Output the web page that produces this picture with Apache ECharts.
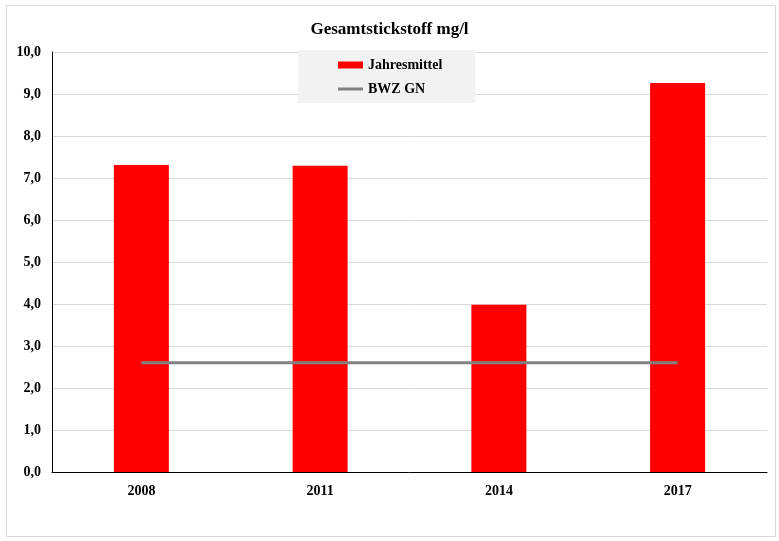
<!DOCTYPE html>
<html>
<head>
<meta charset="utf-8">
<script src="https://cdn.jsdelivr.net/npm/echarts@6/dist/echarts.min.js"></script>
<style>
html, body { margin: 0; padding: 0; background: #fff; }
#chart { width: 779px; height: 541px; }
</style>
</head>
<body>
<div id="chart"></div>
<script>
var years = ['2008', '2011', '2014', '2017'];
var jahresmittel = [7.31, 7.29, 3.98, 9.26];
var bwzGn = [2.6, 2.6, 2.6, 2.6];

var serif = '"Liberation Serif", "Times New Roman", serif';
var chart = echarts.init(document.getElementById('chart'));
var option = {
    backgroundColor: '#fff',
    animation: false,
    graphic: [{
        type: 'rect',
        shape: { x: 6.5, y: 5.5, width: 769, height: 531 },
        style: { fill: 'none', stroke: '#d9d9d9', lineWidth: 1 },
        z: -1
    }],
    title: {
        text: 'Gesamtstickstoff mg/l',
        left: 'center',
        top: 16,
        textStyle: { fontFamily: serif, fontSize: 17, fontWeight: 'bold', color: '#000' }
    },
    legend: {
        orient: 'vertical',
        left: 298,
        top: 50,
        padding: [8, 33, 7, 40],
        backgroundColor: '#f2f2f2',
        itemWidth: 25,
        itemHeight: 7,
        itemGap: 10,
        textStyle: { fontFamily: serif, fontSize: 14, fontWeight: 'bold', color: '#000' },
        data: [
            { name: 'Jahresmittel', icon: 'rect' },
            { name: 'BWZ GN', icon: 'path://M0,0H0.01V0.01H0Z M0,2H25V5H0Z M0,6.99H0.01V7H0Z' }
        ]
    },
    grid: { left: 52, right: 12, top: 52, bottom: 69 },
    xAxis: {
        type: 'category',
        data: years,
        axisLine: { lineStyle: { color: '#000', width: 1 } },
        axisTick: { show: false },
        axisLabel: { fontFamily: serif, fontSize: 14, fontWeight: 'bold', color: '#000', margin: 12 }
    },
    yAxis: {
        type: 'value',
        min: 0,
        max: 10,
        interval: 1,
        axisLine: { show: true, lineStyle: { color: '#000', width: 1 } },
        axisTick: { show: false },
        splitLine: { lineStyle: { color: '#d9d9d9', width: 1 } },
        axisLabel: {
            fontFamily: serif, fontSize: 14, fontWeight: 'bold', color: '#000', margin: 11,
            formatter: function (v) { return v.toFixed(1).replace('.', ','); }
        }
    },
    series: [{
        name: 'Jahresmittel',
        type: 'bar',
        data: jahresmittel,
        barWidth: 55,
        itemStyle: { color: '#ff0000' }
    }, {
        name: 'BWZ GN',
        type: 'line',
        data: bwzGn,
        symbol: 'none',
        lineStyle: { color: '#808080', width: 3 },
        itemStyle: { color: '#808080' },
        z: 3
    }]
};
chart.setOption(option);
</script>
</body>
</html>
